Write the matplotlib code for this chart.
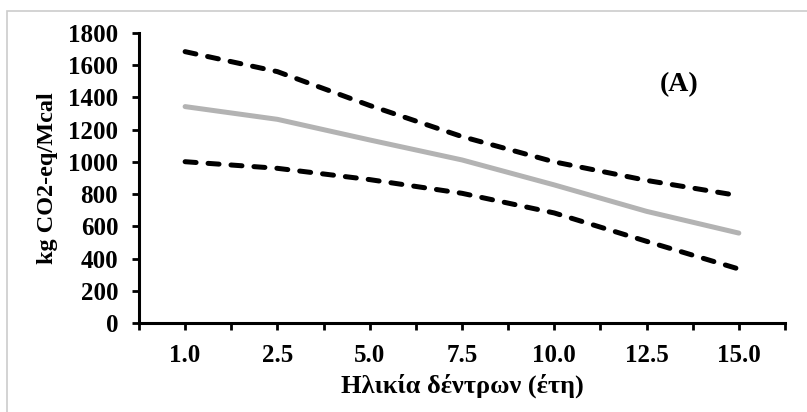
import matplotlib.pyplot as plt
from matplotlib.ticker import FixedLocator, MultipleLocator
from matplotlib.patches import Rectangle

# tree age categories (years)
ages = ["1.0", "2.5", "5.0", "7.5", "10.0", "12.5", "15.0"]
upper = [1684, 1560, 1350, 1157, 1000, 885, 790]
mean = [1343, 1264, 1136, 1012, 857, 693, 558]
lower = [1001, 960, 890, 805, 683, 507, 335]

plt.rcParams['font.family'] = ['Liberation Serif', 'DejaVu Serif']
plt.rcParams['font.weight'] = 'bold'

fig = plt.figure(figsize=(8.07, 4.12), dpi=100)
ax = fig.add_axes([0.1722, 0.216, 0.8005, 0.704])

x = list(range(len(ages)))
ax.plot(x, upper, color='black', lw=3.6, dashes=(2.2, 2.4), dash_capstyle='round')
ax.plot(x, lower, color='black', lw=3.6, dashes=(2.2, 2.4), dash_capstyle='round')
ax.plot(x, mean, color='#b3b3b3', lw=3.6, solid_capstyle='round')

ax.set_xlim(-0.5, len(ages) - 0.5)
ax.set_ylim(0, 1800)
ax.set_xticks(x)
ax.set_xticklabels(ages)
ax.xaxis.set_minor_locator(FixedLocator([i - 0.5 for i in range(len(ages) + 1)]))
ax.yaxis.set_major_locator(MultipleLocator(200))

for s in ['top', 'right']:
    ax.spines[s].set_visible(False)
for s in ['left', 'bottom']:
    ax.spines[s].set_linewidth(2.2)
ax.tick_params(axis='both', which='both', direction='out', length=5, width=2, labelsize=18)
ax.tick_params(axis='x', which='major', pad=10)
ax.tick_params(axis='y', which='major', pad=10)

ax.set_xlabel('Ηλικία δέντρων (έτη)', fontsize=19, fontweight='bold', labelpad=5)
ax.set_ylabel('kg CO2-eq/Mcal', fontsize=17.5, fontweight='bold', labelpad=7)
ax.text(5.35, 1480, '(A)', fontsize=20, fontweight='bold', ha='center', va='center')

# light frame round the figure
fig.patches.append(Rectangle((0.009, -0.01), 0.995, 0.983, transform=fig.transFigure,
                             fill=False, edgecolor='#cccccc', lw=1.2))

fig.savefig('out.png', dpi=100)
